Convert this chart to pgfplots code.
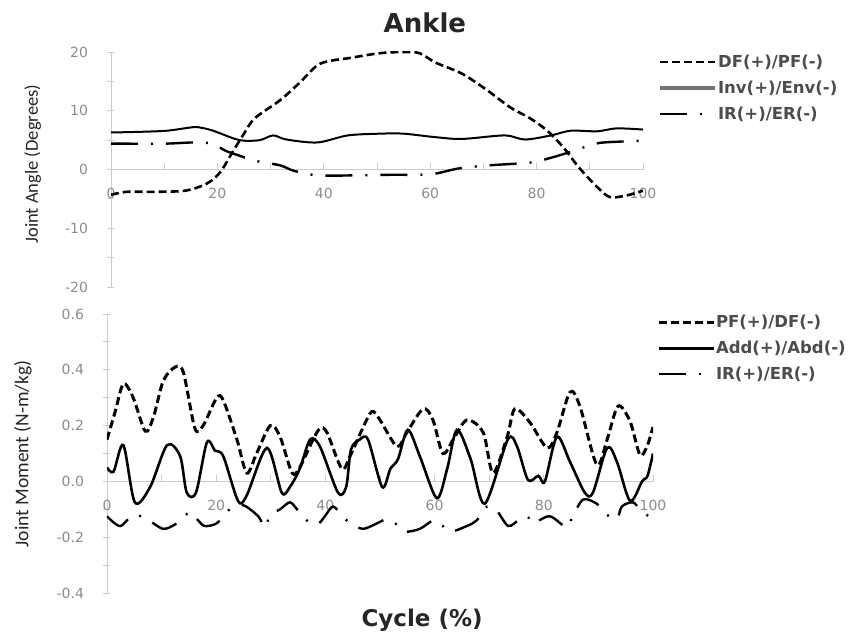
\documentclass[border=0pt]{standalone}
\usepackage{fontspec}
\setmainfont{DejaVu Sans}
\newfontfamily\carlito{Carlito}
\usepackage{pgfplots}
\pgfplotsset{compat=1.18}

\pgfplotsset{
  ankle/.style={
    scale only axis,
    axis x line*=middle, axis y line*=left,
    axis line style={gray!40, line width=0.8pt},
    xmin=0, xmax=100,
    xtick={0,10,...,100},
    xticklabels={0,,20,,40,,60,,80,,100},
    hide obscured x ticks=false, hide obscured y ticks=false,
    xtick style={gray!40, line width=0.8pt, yshift=3pt},
    ytick style={gray!40, line width=0.8pt},
    tick align=center, major tick length=7pt,
    tick label style={font=\fontsize{14}{16}\selectfont, text=black!45},
    xticklabel style={yshift=-12pt},
    yticklabel style={xshift=-16pt},
    legend cell align=left,
    legend image code/.code={\draw[##1] (0pt,0pt) -- (55pt,0pt);},
    legend style={draw=none, fill=none, inner sep=0pt, row sep=10pt,
      font=\fontsize{16.5}{20}\selectfont\bfseries, text=black!70,
      nodes={inner sep=1pt}},
  },
  dfline/.style={black, line width=2.6pt, dash pattern=on 8pt off 4pt, smooth},
  solidline/.style={black, line width=2pt, smooth},
  irline/.style={black, line width=2.4pt, dash pattern=on 27pt off 13pt on 2pt off 13pt, smooth},
}

\begin{document}
\begin{tikzpicture}
\path[use as bounding box] (0pt,0pt) rectangle (863pt,637pt);

% top: joint angle
\begin{axis}[ankle,
  width=532pt, height=235pt, at={(111pt,350pt)}, anchor=south west,
  ymin=-20, ymax=20,
  ytick={-20,-15,...,20},
  yticklabels={-20,,-10,,0,,10,,20},
  title={Ankle},
  title style={font=\fontsize{26}{28}\selectfont\bfseries, text=black!85,
    at={(axis description cs:0.59,1.1)}, anchor=center},
  ylabel={Joint Angle (Degrees)},
  ylabel style={font=\carlito\fontsize{18.5}{20}\selectfont, text=black!85,
    at={(axis description cs:-0.147,0.523)}, anchor=center},
  legend style={at={(axis description cs:1.028,0.992)}, anchor=north west},
]
\addplot[dfline] coordinates {
(0,-4.3) (3,-3.8) (8,-3.8) (14,-3.6) (18,-2.4) (20.5,-0.5) (23,3.2) (25,6.1)
(27,8.7) (31.8,11.8) (35.5,14.8) (39.3,18) (45,19) (50.6,19.8) (55,20) (58,19.8)
(61,18.2) (66,16.3) (70.7,13.5) (75,10.6) (78.8,8.7) (82,6.6) (85,3.8) (88,0.3)
(91.4,-3) (93.8,-4.7) (97,-4.4) (100,-3.6)};
\addlegendentry{DF(+)/PF(-)}
\addplot[solidline, forget plot] coordinates {
(0,6.3) (5,6.4) (10.5,6.6) (15.4,7.2) (17,7.1) (19.2,6.6) (23,5.3) (25,4.9)
(28,5.0) (30.5,5.8) (33,5.1) (38.8,4.6) (44.5,5.8) (50.6,6.1) (55,6.1) (61,5.5)
(66,5.2) (74,5.8) (77.8,5.1) (82.7,5.8) (86.4,6.6) (91.4,6.5) (95,7.0) (100,6.8)};
\addlegendimage{black!55, line width=4pt}
\addlegendentry{Inv(+)/Env(-)}
\addplot[irline] coordinates {
(0,4.4) (10,4.4) (15.4,4.6) (19,4.4) (21.5,3.2) (24,2.4) (27,1.5) (31.8,0.7)
(34.3,-0.2) (38.8,-1.0) (45.8,-1.0) (52.6,-0.9) (57.9,-0.9) (61,-0.7) (65.5,0.2)
(71,0.7) (79,1.2) (82.7,2.0) (86.4,3.0) (90,4.1) (92.6,4.6) (100,4.9)};
\addlegendentry{IR(+)/ER(-)}
\end{axis}

% bottom: joint moment
\begin{axis}[ankle,
  width=546pt, height=279pt, at={(107pt,44pt)}, anchor=south west,
  ymin=-0.4, ymax=0.6,
  ytick={-0.4,-0.3,-0.2,-0.1,0,0.1,0.2,0.3,0.4,0.5,0.6},
  yticklabels={-0.4,,-0.2,,0.0,,0.2,,0.4,,0.6},
  xlabel={Cycle (\%)},
  xlabel style={font=\fontsize{23}{26}\selectfont\bfseries, text=black!85,
    at={(axis description cs:0.577,-0.097)}, anchor=center},
  ylabel={Joint Moment (N-m/kg)},
  ylabel style={font=\carlito\fontsize{19.5}{20}\selectfont, text=black!85,
    at={(axis description cs:-0.154,0.498)}, anchor=center},
  legend style={at={(axis description cs:1.007,1.0)}, anchor=north west},
]
\addplot[dfline, line width=3pt] coordinates {
(0,0.15) (1.5,0.25) (3,0.35) (4.8,0.30) (7,0.18) (8.5,0.23) (10.3,0.36) (12.5,0.41)
(14,0.39) (16.1,0.19) (17.6,0.20) (20.1,0.30) (21.3,0.29) (23.8,0.15) (25.6,0.03)
(27.4,0.10) (29.9,0.20) (31.7,0.16) (33.9,0.03) (35.3,0.05) (37.5,0.14) (39,0.19)
(40.3,0.175) (43,0.045) (44.5,0.09) (46.7,0.185) (48.5,0.25) (50,0.22) (53.1,0.125)
(54.9,0.175) (57.9,0.26) (59.7,0.22) (61.5,0.10) (63.4,0.15) (65.9,0.22) (68.9,0.175)
(70.7,0.03) (73.3,0.16) (74.7,0.26) (77.5,0.21) (80.6,0.12) (82.4,0.175) (84.8,0.32)
(86.6,0.27) (89.7,0.06) (91.6,0.15) (93.6,0.27) (95.8,0.215) (97.6,0.095) (98.9,0.125)
(100,0.195)};
\addlegendentry{PF(+)/DF(-)}
\addplot[solidline, line width=2.6pt] coordinates {
(0,0.05) (1.2,0.035) (3,0.13) (5.1,-0.075) (7.9,-0.02) (11,0.13) (13.4,0.09)
(14.6,-0.04) (16.3,-0.04) (18.3,0.14) (19.8,0.11) (21.3,0.09) (24,-0.07) (25.6,-0.05)
(29.3,0.12) (32,-0.04) (33.5,-0.02) (35.3,0.045) (37.2,0.15) (39,0.125) (42.3,-0.04)
(43.8,-0.02) (44.7,0.115) (46.3,0.15) (47.8,0.15) (50.4,-0.02) (51.9,0.045)
(53.3,0.08) (55.1,0.185) (57.3,0.09) (60.4,-0.06) (62.3,0.045) (64.1,0.185)
(66.6,0.08) (69.2,-0.08) (73.4,0.15) (75.1,0.125) (77.1,0.005) (79,0.02) (80.2,0.0)
(82.4,0.16) (84.8,0.07) (87.5,-0.04) (89,-0.04) (91.6,0.12) (93.4,0.07) (95.8,-0.07)
(98,0.0) (99,0.02) (100,0.10)};
\addlegendentry{Add(+)/Abd(-)}
\addplot[irline] coordinates {
(0,-0.125) (2.4,-0.16) (4.8,-0.12) (7.3,-0.135) (10.3,-0.17) (12.8,-0.15) (15.2,-0.11)
(16.7,-0.14) (17.9,-0.16) (20.1,-0.15) (22.5,-0.10) (24.9,-0.085) (27.7,-0.125)
(28.9,-0.165) (29.9,-0.12) (31.7,-0.10) (33.5,-0.075) (34.8,-0.1) (36.6,-0.14)
(38.5,-0.155) (39.9,-0.125) (41.4,-0.09) (43.2,-0.125) (44.5,-0.15) (46.9,-0.17)
(49.5,-0.15) (51.3,-0.135) (53.1,-0.155) (54.6,-0.18) (57.3,-0.17) (59.7,-0.14)
(61,-0.15) (62.8,-0.18) (65.9,-0.16) (67.7,-0.14) (69.6,-0.09) (71.4,-0.105)
(73.5,-0.16) (75.6,-0.135) (77,-0.125) (78,-0.15) (81.1,-0.125) (84.2,-0.165)
(85.3,-0.125) (87.2,-0.065) (89.7,-0.08) (91.6,-0.12) (93.4,-0.135) (94.3,-0.09)
(96.3,-0.075) (97.6,-0.1) (99.5,-0.13)};
\addlegendentry{IR(+)/ER(-)}
\end{axis}
\end{tikzpicture}
\end{document}
